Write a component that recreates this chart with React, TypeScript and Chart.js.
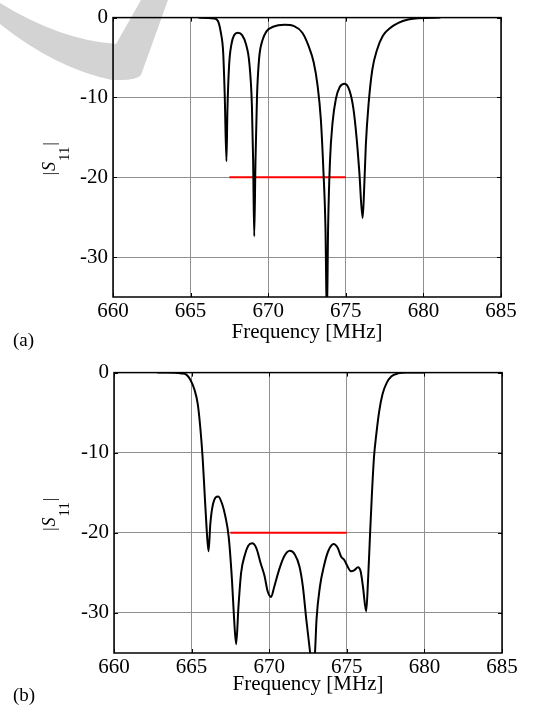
import React, { useEffect, useRef } from 'react';
import { Chart, registerables } from 'chart.js';

Chart.register(...registerables);

const FONT = "'Liberation Serif', 'Times New Roman', Times, serif";

// Axis ticks and labels
const xTicks = [660, 665, 670, 675, 680, 685];
const yTicks = [0, -10, -20, -30];
const xLabel = 'Frequency [MHz]';
const panelLabels = ['(a)', '(b)'];

// (a) measured |S11| in dB
const freqA = [665.5, 666.5, 666.75, 666.95, 667.1, 667.2, 667.31, 667.37, 667.48, 667.63, 667.8, 668.05, 668.32, 668.57, 668.78, 668.95, 669.03, 669.1, 669.18, 669.28, 669.41, 669.62, 669.9, 670.31, 671.05, 671.67, 672.2, 672.6, 672.93, 673.18, 673.39, 673.56, 673.69, 673.78, 673.86, 673.98, 674.15, 674.36, 674.61, 674.93, 675.24, 675.49, 675.7, 675.87, 676.08, 676.16, 676.29, 676.46, 676.71, 677.02, 677.38, 677.86, 678.39, 679.02, 679.65, 681.1];
const s11A = [0, -0.1, -0.4, -1.9, -4.4, -9.8, -18.0, -11.8, -6.0, -3.35, -2.2, -1.9, -2.2, -3.35, -5.6, -11.0, -18, -27.4, -18, -9.8, -5.2, -2.9, -1.7, -1.15, -0.9, -1.07, -1.9, -3.55, -5.6, -8.5, -12.7, -19.3, -26.3, -38, -26.3, -18, -13.1, -10.2, -8.7, -8.3, -9.15, -11.4, -15.15, -19.3, -25.1, -22.6, -16, -11, -6.5, -4.0, -2.3, -1.3, -0.66, -0.25, -0.07, 0];

// (b) measured |S11| in dB
const freqB = [662.8, 663.4, 664.35, 664.66, 664.91, 665.18, 665.4, 665.56, 665.71, 665.84, 665.96, 666.09, 666.21, 666.38, 666.72, 666.97, 667.18, 667.39, 667.6, 667.74, 667.87, 668.02, 668.19, 668.44, 668.65, 668.9, 669.17, 669.45, 669.7, 669.9, 670.12, 670.33, 670.64, 670.96, 671.33, 671.65, 671.95, 672.17, 672.39, 672.64, 672.8, 672.95, 673.05, 673.27, 673.52, 673.8, 674.15, 674.42, 674.63, 674.84, 675.05, 675.26, 675.47, 675.72, 675.89, 676.04, 676.25, 676.37, 676.5, 676.62, 676.75, 676.9, 677.09, 677.3, 677.57, 677.88, 678.31, 678.83, 680.0];
const s11B = [0, 0, -0.1, -0.25, -0.87, -2.1, -3.96, -6.85, -10.6, -15.1, -19.2, -22.3, -18.8, -16.4, -15.45, -16.4, -18.0, -20.5, -25.85, -30.8, -33.9, -29.2, -25.0, -22.7, -21.6, -21.3, -21.9, -23.8, -25.4, -27.3, -28.0, -26.7, -24.6, -22.96, -22.25, -22.7, -24.2, -26.7, -30.8, -35, -38, -35, -30.8, -26.7, -24.2, -22.3, -21.4, -21.9, -22.96, -23.4, -24.2, -24.8, -24.7, -24.3, -24.8, -26.7, -29.8, -25.85, -20.1, -15.1, -10.6, -7.7, -4.8, -2.7, -1.28, -0.45, -0.1, 0, 0];

// Specification line
const specFreq = [667.5, 675];
const specLevel = [-20, -20];

const framePlugin = {
  id: 'frame',
  beforeDraw(chart: any, _args: any, opts: any) {
    if (!opts.watermark) return;
    const ctx = chart.ctx;
    ctx.save();
    ctx.fillStyle = '#d3d3d3';
    ctx.beginPath();
    ctx.moveTo(0, 3);
    ctx.quadraticCurveTo(60, 40, 116, 44);
    ctx.lineTo(141, 0);
    ctx.lineTo(168, 0);
    ctx.lineTo(141, 75);
    ctx.quadraticCurveTo(137, 80, 120, 80);
    ctx.lineTo(112, 80);
    ctx.quadraticCurveTo(55, 68, 0, 24);
    ctx.closePath();
    ctx.fill();
    ctx.restore();
  },
  afterDraw(chart: any, _args: any, opts: any) {
    const { ctx, chartArea: a, scales } = chart;
    ctx.save();
    ctx.strokeStyle = '#000';
    ctx.lineWidth = 1.5;
    ctx.strokeRect(a.left, a.top, a.right - a.left, a.bottom - a.top);
    ctx.lineWidth = 1;
    const tl = 4;
    const seg = (x1: number, y1: number, x2: number, y2: number) => {
      ctx.beginPath();
      ctx.moveTo(x1, y1);
      ctx.lineTo(x2, y2);
      ctx.stroke();
    };
    xTicks.forEach((v) => {
      const px = Math.round(scales.x.getPixelForValue(v)) + 0.5;
      seg(px, a.bottom, px, a.bottom - tl);
      seg(px, a.top, px, a.top + tl);
    });
    yTicks.forEach((v) => {
      const py = Math.round(scales.y.getPixelForValue(v)) + 0.5;
      seg(a.left, py, a.left + tl, py);
      seg(a.right, py, a.right - tl, py);
    });

    // y-axis title |S11|
    ctx.fillStyle = '#000';
    const fBar = `16px ${FONT}`;
    const fS = `italic 18px ${FONT}`;
    const fSub = `15px ${FONT}`;
    ctx.font = fBar;
    const wBar = ctx.measureText('|').width;
    ctx.font = fS;
    const wS = ctx.measureText('S').width;
    ctx.font = fSub;
    const wSub = ctx.measureText('11').width;
    const total = wBar * 2 + wS + wSub + 3;
    const cy = (a.top + a.bottom) / 2 + 1.5;
    ctx.translate(55, cy);
    ctx.rotate(-Math.PI / 2);
    ctx.textAlign = 'left';
    ctx.textBaseline = 'alphabetic';
    let x = -total / 2;
    ctx.font = fBar;
    ctx.fillText('|', x, 0);
    x += wBar + 1;
    ctx.font = fS;
    ctx.fillText('S', x, 0);
    x += wS + 1;
    ctx.font = fSub;
    ctx.fillText('11', x, 14);
    x += wSub + 1;
    ctx.font = fBar;
    ctx.fillText('|', x, 0);
    ctx.setTransform(1, 0, 0, 1, 0, 0);

    // panel label
    ctx.font = `19px ${FONT}`;
    ctx.textAlign = 'left';
    ctx.textBaseline = 'alphabetic';
    ctx.fillText(opts.panel, 13, opts.labelY);
    ctx.restore();
  },
};

type PanelProps = {
  freq: number[];
  s11: number[];
  panel: string;
  leftW: number;
  rightPad: number;
  height: number;
  xAxisH: number;
  bottomPad: number;
  labelY: number;
  watermark: boolean;
};

function Panel({ freq, s11, panel, leftW, rightPad, height, xAxisH, bottomPad, labelY, watermark }: PanelProps) {
  const ref = useRef<HTMLCanvasElement>(null);
  useEffect(() => {
    const canvas = ref.current;
    if (!canvas) return;
    const tickFont = { family: FONT, size: 21 };
    const gridOpts = { color: '#909090', lineWidth: 1, drawTicks: false };
    const chart = new Chart(canvas, {
      type: 'line',
      data: {
        datasets: [
          {
            data: freq.map((f, i) => ({ x: f, y: s11[i] })),
            borderColor: '#000000',
            borderWidth: 2,
            pointRadius: 0,
            cubicInterpolationMode: 'monotone',
            fill: false,
          },
          {
            data: specFreq.map((f, i) => ({ x: f, y: specLevel[i] })),
            borderColor: '#ff0000',
            borderWidth: 2,
            pointRadius: 0,
            fill: false,
          },
        ],
      },
      options: {
        responsive: false,
        animation: false,
        devicePixelRatio: 1,
        events: [],
        layout: { padding: { left: 0, top: 15, right: rightPad, bottom: bottomPad } },
        plugins: {
          legend: { display: false },
          tooltip: { enabled: false },
          frame: { panel, watermark, labelY },
        } as any,
        scales: {
          x: {
            type: 'linear',
            min: 660,
            max: 685,
            position: 'bottom',
            afterBuildTicks: (s: any) => {
              s.ticks = xTicks.map((v) => ({ value: v }));
            },
            afterFit: (s: any) => {
              s.height = xAxisH;
            },
            ticks: {
              font: tickFont,
              color: '#000',
              padding: 2,
              maxRotation: 0,
              autoSkip: false,
              callback: (v: any) => String(v),
            },
            grid: gridOpts,
            border: { display: false },
            title: { display: true, text: xLabel, font: tickFont, color: '#000', padding: 0 },
          },
          y: {
            type: 'linear',
            min: -35,
            max: 0,
            afterBuildTicks: (s: any) => {
              s.ticks = yTicks.map((v) => ({ value: v }));
            },
            afterFit: (s: any) => {
              s.width = leftW;
            },
            ticks: {
              font: tickFont,
              color: '#000',
              padding: 5,
              callback: (v: any) => String(v),
            },
            grid: gridOpts,
            border: { display: false },
          },
        },
      } as any,
      plugins: [framePlugin],
    });
    return () => chart.destroy();
  }, []);
  return <canvas ref={ref} width={535} height={height} style={{ display: 'block', width: 535, height }} />;
}

export default function App() {
  return (
    <div style={{ position: 'absolute', left: 0, top: 0, width: 535, height: 707, background: '#fff' }}>
      <Panel freq={freqA} s11={s11A} panel={panelLabels[0]} leftW={113} rightPad={34} height={355}
        xAxisH={48} bottomPad={10} labelY={346} watermark={true} />
      <Panel freq={freqB} s11={s11B} panel={panelLabels[1]} leftW={114} rightPad={33} height={352}
        xAxisH={44} bottomPad={10} labelY={346} watermark={false} />
    </div>
  );
}
